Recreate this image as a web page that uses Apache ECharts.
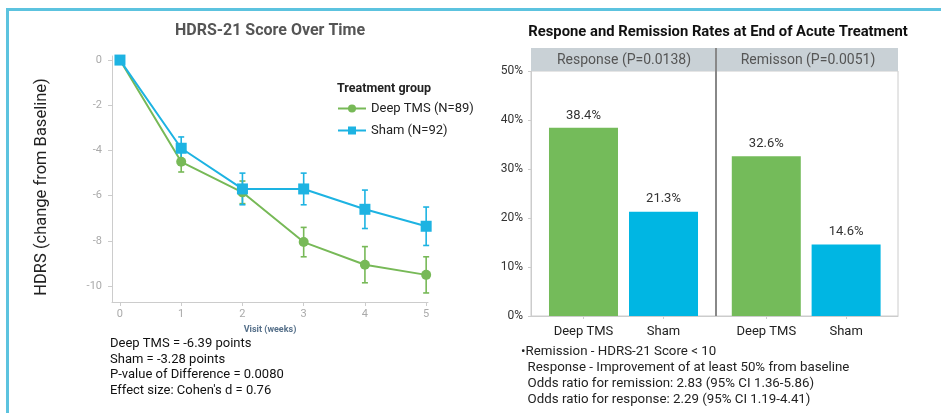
<!DOCTYPE html>
<html>
<head>
<meta charset="utf-8">
<script src="https://cdn.jsdelivr.net/npm/echarts@6/dist/echarts.min.js"></script>
<style>
  html, body { margin: 0; padding: 0; background: #fff; }
  #frame {
    position: absolute; left: 6px; top: 8px; width: 960px; height: 420px;
    border-top: 3px solid #5cc3df; border-left: 3px solid #5cc3df;
  }
  #chart { position: absolute; left: 0; top: 0; width: 941px; height: 413px; }
</style>
</head>
<body>
<div id="frame"></div>
<div id="chart"></div>
<script>
// 左图：HDRS-21 随时间变化
const weeks = [0, 1, 2, 3, 4, 5];
const tmsMean = [0, -4.5, -5.85, -8.05, -9.05, -9.5];
const tmsErr = [0, 0.45, 0.5, 0.65, 0.8, 0.8];
const shamMean = [0, -3.9, -5.7, -5.7, -6.6, -7.35];
const shamErr = [0, 0.5, 0.7, 0.7, 0.85, 0.85];
const yTicks = [0, -2, -4, -6, -8, -10];

// 右图：应答率 / 缓解率
const groups = ['Deep TMS', 'Sham'];
const groupPos = [0, 1];
const responseRates = [38.4, 21.3];
const remissionRates = [32.6, 14.6];

const summaryLines = [
  'Deep TMS = -6.39 points',
  'Sham = -3.28 points',
  'P-value of Difference = 0.0080',
  "Effect size: Cohen's d = 0.76"
];
const noteLines = [
  '•Remission - HDRS-21 Score < 10',
  '  Response - Improvement of at least 50% from baseline',
  '  Odds ratio for remission: 2.83 (95% CI 1.36-5.86)',
  '  Odds ratio for response: 2.29 (95% CI 1.19-4.41)'
];

const GREEN = '#77b957';
const BLUE = '#1db3e2';
const BAR_GREEN = '#74bb5a';
const BAR_BLUE = '#00b6e3';
const FONT = 'Roboto, "Noto Sans", sans-serif';

const chart = echarts.init(document.getElementById('chart'));

// 误差线
function errorBars(mean, err, color) {
  return {
    type: 'custom',
    xAxisIndex: 0,
    yAxisIndex: 0,
    z: 1,
    silent: true,
    data: weeks.map((w, i) => [w, mean[i] + err[i], mean[i] - err[i]]),
    renderItem: function (params, api) {
      if (api.value(1) === api.value(2)) return null;
      const hi = api.coord([api.value(0), api.value(1)]);
      const lo = api.coord([api.value(0), api.value(2)]);
      const cap = 3;
      const style = { stroke: color, lineWidth: 1.6 };
      return {
        type: 'group',
        children: [
          { type: 'line', shape: { x1: hi[0], y1: hi[1], x2: lo[0], y2: lo[1] }, style },
          { type: 'line', shape: { x1: hi[0] - cap, y1: hi[1], x2: hi[0] + cap, y2: hi[1] }, style },
          { type: 'line', shape: { x1: lo[0] - cap, y1: lo[1], x2: lo[0] + cap, y2: lo[1] }, style }
        ]
      };
    }
  };
}

// 柱状图面板的横轴（数值轴，用刻度标签显示分组名）
function panelXAxis(gridIndex, min, max) {
  return {
    type: 'value', gridIndex, min, max,
    axisLine: { show: true, onZero: false, lineStyle: { color: '#ccc' } },
    axisTick: { show: true, customValues: groupPos, length: 3, lineStyle: { color: '#ccc' } },
    axisLabel: {
      customValues: groupPos, fontSize: 13, color: '#222', margin: 9,
      formatter: v => groups[Math.round(v)]
    },
    splitLine: { show: false }
  };
}

function barSeries(axisIndex, rates) {
  return {
    type: 'bar', xAxisIndex: axisIndex, yAxisIndex: axisIndex, barWidth: 69,
    data: rates.map((v, i) => ({ value: [groupPos[i], v], itemStyle: { color: i === 0 ? BAR_GREEN : BAR_BLUE } })),
    label: {
      show: true, position: 'top', distance: 6,
      formatter: p => p.value[1].toFixed(1) + '%', fontSize: 13, color: '#333'
    }
  };
}

const headerY = 48, headerH = 23;

const option = {
  animation: false,
  textStyle: { fontFamily: FONT },
  title: [
    {
      text: 'HDRS-21 Score Over Time',
      left: 265, top: 18, textAlign: 'center',
      textStyle: { fontSize: 16, fontWeight: 'bold', color: '#555', fontFamily: FONT }
    },
    {
      text: 'Treatment group',
      left: 332, top: 77,
      textStyle: { fontSize: 12.5, fontWeight: 'bold', color: '#222', fontFamily: FONT }
    },
    {
      text: 'Respone and Remission Rates at End of Acute Treatment',
      left: 713, top: 20, textAlign: 'center',
      textStyle: { fontSize: 14.8, fontWeight: 'bold', color: '#111', fontFamily: FONT }
    }
  ],
  legend: {
    data: ['Deep TMS (N=89)', 'Sham (N=92)'],
    orient: 'vertical',
    left: 332, top: 97,
    itemWidth: 28, itemHeight: 10, itemGap: 9,
    textStyle: { fontSize: 13, color: '#222', fontFamily: FONT }
  },
  grid: [
    { left: 112, top: 56, width: 316, height: 246 },
    { left: 531, top: 71, width: 185, height: 245, show: true, borderColor: '#ccc', borderWidth: 1 },
    { left: 716, top: 71, width: 182, height: 245, show: true, borderColor: '#ccc', borderWidth: 1 }
  ],
  xAxis: [
    {
      type: 'value', gridIndex: 0, min: -0.13, max: 5.03,
      name: 'Visit (weeks)', nameLocation: 'middle', nameGap: 22,
      nameTextStyle: { fontSize: 9, color: '#56708a', fontWeight: 'bold' },
      axisLine: { onZero: false, lineStyle: { color: '#ccc' } },
      axisTick: { customValues: weeks, length: 4, lineStyle: { color: '#ccc' } },
      axisLabel: { customValues: weeks, fontSize: 11, color: '#aaa', margin: 7 },
      splitLine: { show: false }
    },
    panelXAxis(1, -0.656, 1.656),
    panelXAxis(2, -0.63, 1.65)
  ],
  yAxis: [
    {
      type: 'value', gridIndex: 0, min: -10.7, max: 0.18,
      name: 'HDRS (change from Baseline)', nameLocation: 'middle', nameGap: 62, nameRotate: 90,
      nameTextStyle: { fontSize: 16.5, color: '#222', padding: [0, 16, 0, 0] },
      axisLine: { show: true, onZero: false, lineStyle: { color: '#ccc' } },
      axisTick: { show: true, customValues: yTicks, length: 4, lineStyle: { color: '#ccc' } },
      axisLabel: { customValues: yTicks, fontSize: 11, color: '#aaa', margin: 10 },
      splitLine: { show: false }
    },
    {
      type: 'value', gridIndex: 1, min: 0, max: 50, interval: 10,
      axisLine: { show: true, onZero: false, lineStyle: { color: '#ccc' } },
      axisTick: { show: true, length: 3, lineStyle: { color: '#ccc' } },
      axisLabel: { formatter: '{value}%', fontSize: 12, color: '#333', margin: 8 },
      splitLine: { show: false }
    },
    {
      type: 'value', gridIndex: 2, min: 0, max: 50, interval: 10,
      axisLine: { show: true, onZero: false, lineStyle: { color: '#888', width: 2 } },
      axisTick: { show: false },
      axisLabel: { show: false },
      splitLine: { show: false }
    }
  ],
  graphic: [
    {
      type: 'rect', z: 10,
      shape: { x: 531, y: headerY, width: 367, height: headerH },
      style: { fill: '#c9d1d6' }
    },
    {
      type: 'text', x: 624, y: headerY + 12, z: 11,
      style: { text: 'Response (P=0.0138)', fontSize: 14, fill: '#555', fontFamily: FONT, align: 'center', verticalAlign: 'middle' }
    },
    {
      type: 'text', x: 808, y: headerY + 12, z: 11,
      style: { text: 'Remisson (P=0.0051)', fontSize: 14, fill: '#555', fontFamily: FONT, align: 'center', verticalAlign: 'middle' }
    },
    {
      type: 'line', z: 12,
      shape: { x1: 716, y1: headerY, x2: 716, y2: headerY + headerH },
      style: { stroke: '#888', lineWidth: 2 }
    },
    {
      type: 'text', x: 110, y: 336, z: 11,
      style: { text: summaryLines.join('\n'), fontSize: 13, lineHeight: 15.5, fill: '#111', fontFamily: FONT }
    },
    {
      type: 'text', x: 521, y: 344, z: 11,
      style: { text: noteLines.join('\n'), fontSize: 13.3, lineHeight: 16, fill: '#222', fontFamily: FONT }
    }
  ],
  series: [
    errorBars(tmsMean, tmsErr, GREEN),
    errorBars(shamMean, shamErr, BLUE),
    {
      name: 'Deep TMS (N=89)', type: 'line', xAxisIndex: 0, yAxisIndex: 0, z: 2,
      data: weeks.map((w, i) => [w, tmsMean[i]]),
      symbol: 'circle', symbolSize: 10,
      lineStyle: { color: GREEN, width: 2 },
      itemStyle: { color: GREEN }
    },
    {
      name: 'Sham (N=92)', type: 'line', xAxisIndex: 0, yAxisIndex: 0, z: 3,
      data: weeks.map((w, i) => [w, shamMean[i]]),
      symbol: 'rect', symbolSize: 11,
      lineStyle: { color: BLUE, width: 2 },
      itemStyle: { color: BLUE }
    },
    barSeries(1, responseRates),
    barSeries(2, remissionRates)
  ]
};

chart.setOption(option);
</script>
</body>
</html>
